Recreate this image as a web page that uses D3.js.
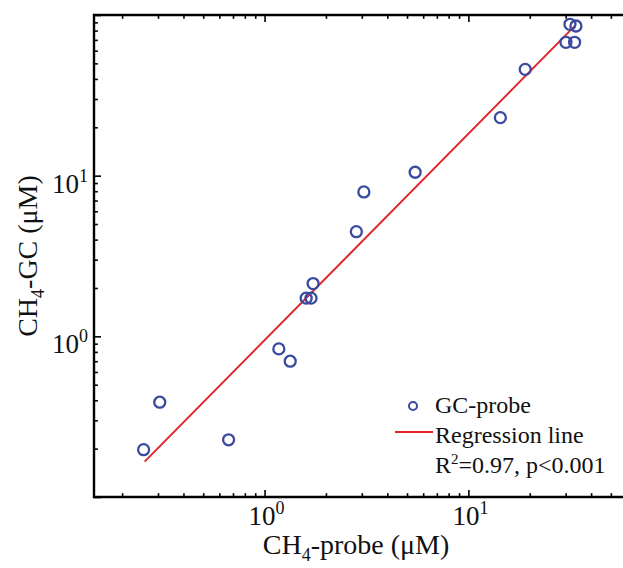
<!DOCTYPE html>
<html>
<head>
<meta charset="utf-8">
<script src="https://cdn.jsdelivr.net/npm/d3@7"></script>
<style>
  html, body { margin: 0; padding: 0; background: #fff; }
  svg { display: block; font-family: "Liberation Serif", "DejaVu Serif", serif; }
</style>
</head>
<body>
<div id="chart"></div>
<script>
"use strict";

// CH4 probe vs GC measurements (uM)
var probeValues = [31.5, 33.7, 30.1, 33.2, 19.0, 14.35, 5.48, 3.07, 2.82, 1.73, 1.60, 1.69, 1.175, 1.336, 0.306, 0.255, 0.666];
var gcValues    = [87.5, 85.4, 67.6, 67.6, 45.9, 22.96, 10.5, 7.92, 4.48, 2.13, 1.73, 1.73, 0.835, 0.70, 0.389, 0.197, 0.227];

// regression in log space: log10(gc) = intercept + slope * log10(probe)
var regSlope = 1.285;
var regIntercept = -0.024;
var regRange = [0.258, 33.2];

var xDomain = [0.1456, 60];
var yDomain = [0.1, 100];
var majorTicks = [0.1, 1, 10, 100];
var tickLabelsX = [{v: 1, e: "0"}, {v: 10, e: "1"}];
var tickLabelsY = [{v: 1, e: "0"}, {v: 10, e: "1"}];
var legendLabels = ["GC-probe", "Regression line"];
var statsLabel = {r2: "0.97", p: "0.001"};

(function () {
    var width = 623, height = 568;
    var pLeft = 94, pTop = 15, pRight = 627, pBottom = 497;

    var x = d3.scaleLog().domain(xDomain).range([pLeft, pRight]);
    var y = d3.scaleLog().domain(yDomain).range([pBottom, pTop]);

    function minorTicks(domain) {
        var out = [];
        for (var e = -2; e <= 2; e++) {
            for (var m = 1; m <= 9; m++) {
                var v = m * Math.pow(10, e);
                if (v >= domain[0] * 0.999 && v <= domain[1] * 1.001) out.push(v);
            }
        }
        return out;
    }
    function isMajor(v) {
        return majorTicks.some(function (t) { return Math.abs(t - v) / t < 1e-6; });
    }

    var svg = d3.select("#chart").append("svg")
        .attr("width", width).attr("height", height);

    var xt = minorTicks(xDomain), yt = minorTicks(yDomain);

    // axes with inward ticks
    function styleAxis(g) {
        g.select(".domain").remove();
        g.selectAll("text").remove();
        g.selectAll(".tick line").attr("stroke", "#000").attr("stroke-width", 1.6)
            .attr("y2", function (d) { return (+d3.select(this).attr("y2") || 0) * (isMajor(d) ? 1 : 0.55); })
            .attr("x2", function (d) { return (+d3.select(this).attr("x2") || 0) * (isMajor(d) ? 1 : 0.55); });
    }
    svg.append("g").attr("transform", "translate(0," + pBottom + ")")
        .call(d3.axisBottom(x).tickValues(xt).tickSize(-7)).call(styleAxis);
    svg.append("g").attr("transform", "translate(0," + pTop + ")")
        .call(d3.axisTop(x).tickValues(xt).tickSize(-7)).call(styleAxis);
    svg.append("g").attr("transform", "translate(" + pLeft + ",0)")
        .call(d3.axisLeft(y).tickValues(yt).tickSize(-7)).call(styleAxis);

    svg.append("path")
        .attr("d", "M" + pRight + "," + pTop + "H" + pLeft + "V" + pBottom + "H" + pRight)
        .attr("fill", "none").attr("stroke", "#000").attr("stroke-width", 2.4);

    // tick labels
    var xl = svg.append("g").selectAll("text").data(tickLabelsX).enter().append("text")
        .attr("x", function (d) { return x(d.v) + 2; }).attr("y", pBottom + 28)
        .attr("text-anchor", "middle").attr("font-size", 27).attr("fill", "#111");
    xl.append("tspan").text("10");
    xl.append("tspan").attr("dy", -11).attr("font-size", 18).text(function (d) { return d.e; });

    var yl = svg.append("g").selectAll("text").data(tickLabelsY).enter().append("text")
        .attr("x", pLeft - 6).attr("y", function (d) { return y(d.v) + 17; })
        .attr("text-anchor", "end").attr("font-size", 27).attr("fill", "#111");
    yl.append("tspan").text("10");
    yl.append("tspan").attr("dy", -11).attr("font-size", 18).text(function (d) { return d.e; });

    // axis titles
    var xTitle = svg.append("text").attr("x", 356).attr("y", 554)
        .attr("text-anchor", "middle").attr("font-size", 28).attr("fill", "#111");
    xTitle.append("tspan").text("CH");
    xTitle.append("tspan").attr("dy", 7).attr("font-size", 18).text("4");
    xTitle.append("tspan").attr("dy", -7).text("-probe (\u03bcM)");

    var yTitle = svg.append("text")
        .attr("transform", "translate(37," + ((pTop + pBottom) / 2) + ") rotate(-90)")
        .attr("text-anchor", "middle").attr("font-size", 28).attr("fill", "#111");
    yTitle.append("tspan").text("CH");
    yTitle.append("tspan").attr("dy", 7).attr("font-size", 18).text("4");
    yTitle.append("tspan").attr("dy", -7).text("-GC (\u03bcM)");

    // regression line
    var regLine = regRange.map(function (v) {
        return [v, Math.pow(10, regIntercept + regSlope * Math.log10(v))];
    });
    svg.append("path")
        .datum(regLine)
        .attr("d", d3.line().x(function (d) { return x(d[0]); }).y(function (d) { return y(d[1]); }))
        .attr("fill", "none").attr("stroke", "#e0262c").attr("stroke-width", 2);

    // points
    var pts = probeValues.map(function (v, i) { return [v, gcValues[i]]; });
    svg.append("g").selectAll("circle").data(pts).enter().append("circle")
        .attr("cx", function (d) { return x(d[0]); })
        .attr("cy", function (d) { return y(d[1]); })
        .attr("r", 5.5)
        .attr("fill", "none").attr("stroke", "#3a4a9e").attr("stroke-width", 2.3);

    // legend
    var lg = svg.append("g").attr("font-size", 24).attr("fill", "#111");
    lg.append("circle").attr("cx", 413).attr("cy", 406).attr("r", 4)
        .attr("fill", "none").attr("stroke", "#3a4a9e").attr("stroke-width", 2);
    lg.append("text").attr("x", 435).attr("y", 413).text(legendLabels[0]);
    lg.append("line").attr("x1", 395).attr("x2", 433).attr("y1", 432).attr("y2", 432)
        .attr("stroke", "#e0262c").attr("stroke-width", 2);
    lg.append("text").attr("x", 435).attr("y", 443).text(legendLabels[1]);
    var st = lg.append("text").attr("x", 435).attr("y", 473);
    st.append("tspan").text("R");
    st.append("tspan").attr("dy", -9).attr("font-size", 15).text("2");
    st.append("tspan").attr("dy", 9).text("=" + statsLabel.r2 + ", p<" + statsLabel.p);
})();
</script>
</body>
</html>
